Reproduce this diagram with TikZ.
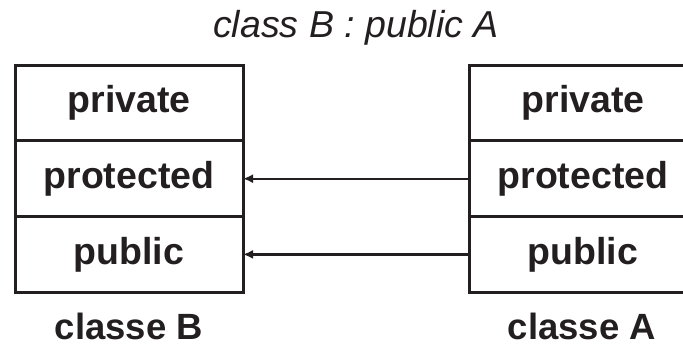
\documentclass[tikz,border=0pt]{standalone}
\usepackage{fontspec}
\setmainfont{Liberation Sans}
\usetikzlibrary{positioning,arrows.meta}
\definecolor{ink}{RGB}{35,31,32}

\begin{document}
\begin{tikzpicture}[x=1pt,y=-1pt,color=ink,
    cell/.style={draw,line width=3pt,minimum width=228pt,minimum height=75.7pt,
      outer sep=0pt,inner sep=0pt,font=\fontsize{37.5}{40}\selectfont\bfseries,
      text height=28pt,text depth=8.2pt},
    lbl/.style={anchor=base,inner sep=0pt,font=\fontsize{36.5}{40}\selectfont\bfseries},
    inherit/.style={line width=2.2pt,-{Latex[length=10pt,width=9pt]}}]
    \clip (0,0) rectangle (683,346);
    \node[anchor=base,inner sep=0pt,font=\fontsize{37.5}{40}\selectfont\itshape] (title) at (356,37){class B : public A};
    % classe B
    \node[cell] (bPriv) at (129,103){private};
    \node[cell,below=0pt of bPriv] (bProt){protected};
    \node[cell,below=0pt of bProt] (bPub){public};
    \node[lbl] (bName) at (129,339){classe B};
    % classe A
    \node[cell] (aPriv) at (583,103){private};
    \node[cell,below=0pt of aPriv] (aProt){protected};
    \node[cell,below=0pt of aProt] (aPub){public};
    \node[lbl] (aName) at (582,339){classe A};
    \draw[inherit] (aProt) -- (bProt);
    \draw[inherit] (aPub) -- (bPub);
  \end{tikzpicture}
\end{document}
